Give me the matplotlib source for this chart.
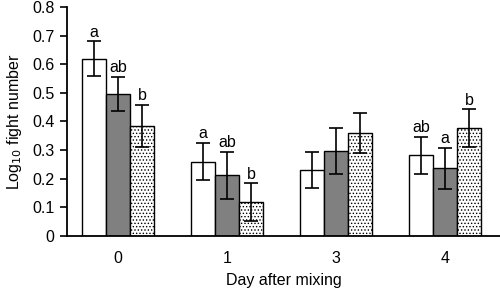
import numpy as np
import matplotlib
matplotlib.use('Agg')
import matplotlib.pyplot as plt

plt.rcParams['font.family']=['Liberation Sans','DejaVu Sans']
plt.rcParams['hatch.linewidth']=0.6

days=['0','1','3','4']
white=[0.62,0.26,0.232,0.282]
white_err=[0.06,0.065,0.063,0.065]
grey=[0.495,0.212,0.297,0.236]
grey_err=[0.06,0.082,0.08,0.073]
dotted=[0.384,0.118,0.36,0.376]
dotted_err=[0.073,0.066,0.07,0.066]
letters_white=['a','a','','ab']
letters_grey=['ab','ab','','a']
letters_dotted=['b','b','','b']

fig=plt.figure(figsize=(5,2.92),dpi=100)
ax=fig.add_axes([0.134,0.192,0.866,0.784])
x=np.arange(len(days))
w=0.22
series=[(white,white_err,letters_white,'white',None),
        (grey,grey_err,letters_grey,'#808080',None),
        (dotted,dotted_err,letters_dotted,'white','.....')]
for i,(vals,errs,labs,col,h) in enumerate(series):
    pos=x+(i-1)*w
    ax.bar(pos,vals,w,color=col,edgecolor='black',linewidth=1.0,hatch=h,zorder=2)
    ax.errorbar(pos,vals,yerr=errs,fmt='none',ecolor='black',elinewidth=1.2,capsize=5,capthick=1.2,zorder=3)
    for p,v,e,l in zip(pos,vals,errs,labs):
        if l: ax.text(p,v+e+0.006,l,ha='center',va='bottom',fontsize=11.5)

ax.set_xlim(-0.468,3.505)
ax.set_ylim(0,0.8)
ax.set_yticks(np.arange(0,0.81,0.1))
ax.set_yticklabels(['0']+[f'{v:.1f}' for v in np.arange(0.1,0.81,0.1)])
ax.set_xticks(x)
ax.set_xticklabels(days)
ax.tick_params(axis='x',length=0,pad=11,labelsize=11.5)
ax.tick_params(axis='y',direction='out',length=5,width=1.2,labelsize=11.5,pad=4)
for s in ['top','right']:
    ax.spines[s].set_visible(False)
ax.spines['left'].set_linewidth(1.3)
ax.spines['bottom'].set_linewidth(1.3)
ax.set_xlabel('Day after mixing',fontsize=11.5,labelpad=5)
ax.set_ylabel('Log$_{10}$ fight number',fontsize=11.5,labelpad=6)
fig.savefig('out.png',dpi=100)
